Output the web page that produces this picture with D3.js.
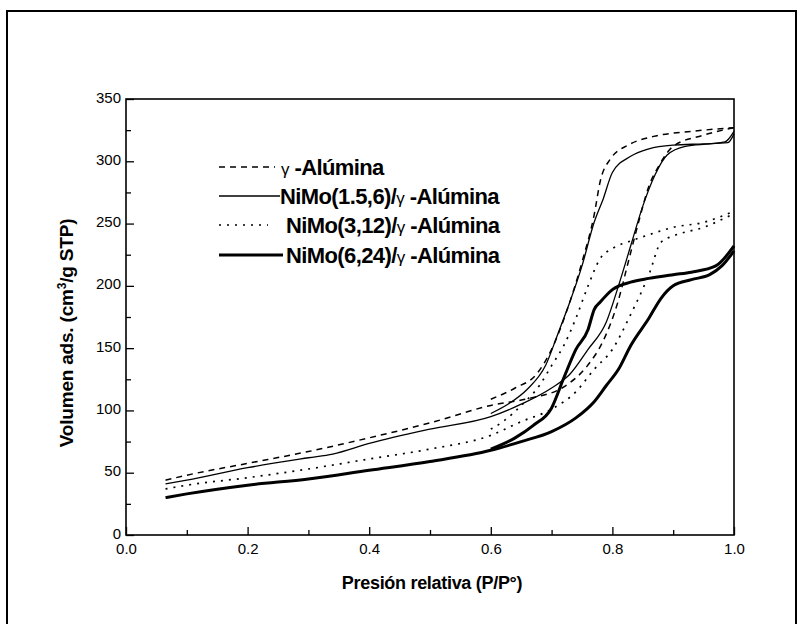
<!DOCTYPE html>
<html>
<head>
<meta charset="utf-8">
<script src="https://cdn.jsdelivr.net/npm/d3@7"></script>
<style>
  html, body { margin: 0; padding: 0; background: #fff; }
  svg { display: block; }
</style>
</head>
<body>
<script>
(()=>{
    const width = 800;
    const height = 624;
    const marginTop = 99;
    const marginRight = 66;
    const marginBottom = 89;
    const marginLeft = 126;

    // isotherms, [P/P0, volume] - adsorption branch and desorption branch
    const gammaAds = [[0.065,44],[0.1,48],[0.2,57.5],[0.3,67],[0.4,78],[0.5,90],[0.6,104],[0.666,110],[0.717,118],[0.759,136],[0.784,155],[0.809,187],[0.826,219],[0.843,251],[0.86,280],[0.876,296],[0.9,312],[0.95,321],[1.0,327]];
    const gammaDes = [[0.6,109],[0.64,118],[0.675,129],[0.70,149],[0.725,180],[0.75,219],[0.77,257],[0.78,284],[0.797,302],[0.826,313],[0.868,320],[0.93,324],[1.0,327]];

    const ni15Ads = [[0.065,41],[0.1,44],[0.2,54],[0.3,62],[0.34,65],[0.4,73.5],[0.5,85],[0.6,95],[0.65,105],[0.70,118],[0.73,129],[0.76,149],[0.79,171],[0.81,200],[0.83,232],[0.85,264],[0.87,289],[0.89,305],[0.92,312],[0.96,314],[0.985,315.5],[1.0,324]];
    const ni15Des = [[0.6,97.5],[0.63,105.5],[0.66,117],[0.69,136],[0.71,161],[0.73,187],[0.75,216],[0.77,251],[0.785,270],[0.80,291],[0.83,304],[0.86,310],[0.90,313],[0.95,314],[0.99,315],[1.0,322]];

    const ni312Ads = [[0.065,37],[0.1,40],[0.2,46],[0.3,53],[0.4,61],[0.5,69],[0.6,80],[0.65,91],[0.70,101],[0.74,115],[0.77,133],[0.80,149],[0.83,177],[0.86,209],[0.88,235],[0.90,240],[0.95,247],[1.0,258]];
    const ni312Des = [[0.6,85],[0.62,91],[0.65,104],[0.68,120],[0.70,136],[0.72,152],[0.74,174],[0.76,200],[0.78,222],[0.80,230],[0.83,236],[0.86,241],[0.90,247],[0.95,251],[1.0,260]];

    const ni624Ads = [[0.065,30],[0.1,33],[0.2,40],[0.3,45],[0.4,52],[0.5,59],[0.6,68],[0.65,75],[0.70,83],[0.74,94],[0.77,107],[0.79,120],[0.81,133],[0.83,152],[0.86,174],[0.88,190],[0.90,200],[0.93,205],[0.96,209],[0.98,216],[1.0,228]];
    const ni624Des = [[0.6,69],[0.64,78],[0.67,88],[0.70,102],[0.72,126],[0.74,149],[0.76,165],[0.77,181],[0.78,187],[0.80,197],[0.83,203],[0.86,206],[0.90,209],[0.93,211],[0.97,216],[1.0,232]];

    const seriesNames = ["γ -Alúmina", "NiMo(1.5,6)/γ -Alúmina", "NiMo(3,12)/γ -Alúmina", "NiMo(6,24)/γ -Alúmina"];
    const xTicks = [0, 0.2, 0.4, 0.6, 0.8, 1.0];
    const xMinor = [0.1, 0.3, 0.5, 0.7, 0.9];
    const yTicks = [0, 50, 100, 150, 200, 250, 300, 350];
    const yMinor = [25, 75, 125, 175, 225, 275, 325];

    const series = [
        {name: seriesNames[0], branches: [gammaAds, gammaDes], width: 1.5, dash: "6,5"},
        {name: seriesNames[1], branches: [ni15Ads, ni15Des], width: 1.3, dash: null},
        {name: seriesNames[2], branches: [ni312Ads, ni312Des], width: 1.7, dash: "2,6"},
        {name: seriesNames[3], branches: [ni624Ads, ni624Des], width: 3, dash: null}
    ];

    const x = d3.scaleLinear()
    .domain([0, 1])
    .range([marginLeft, width - marginRight]);

    const y = d3.scaleLinear()
    .domain([0, 350])
    .range([height - marginBottom, marginTop]);

    const svg = d3.create("svg")
    .attr("width", width)
    .attr("height", height)
    .attr("viewBox", [0, 0, width, height])
    .style("font-family", "'Liberation Sans', Arial, sans-serif");

    // outer figure frame (bottom edge runs off the page)
    svg.append("rect")
    .attr("x", 7).attr("y", 11)
    .attr("width", 789).attr("height", 640)
    .attr("fill", "none").attr("stroke", "#000").attr("stroke-width", 2);

    // axes, ticks pointing inward
    const gx = svg.append("g")
    .attr("transform", `translate(0,${y(0)})`)
    .call(d3.axisBottom(x).tickValues(xTicks).tickSize(-8).tickPadding(8).tickFormat(d3.format(".1f")));
    svg.append("g")
    .attr("transform", `translate(0,${y(0)})`)
    .call(d3.axisBottom(x).tickValues(xMinor).tickSize(-5).tickFormat(""));

    const gy = svg.append("g")
    .attr("transform", `translate(${x(0)},0)`)
    .call(d3.axisLeft(y).tickValues(yTicks).tickSize(-8).tickPadding(5));
    svg.append("g")
    .attr("transform", `translate(${x(0)},0)`)
    .call(d3.axisLeft(y).tickValues(yMinor).tickSize(-5).tickFormat(""));

    svg.selectAll(".domain").remove();
    svg.selectAll(".tick line").attr("stroke", "#000").attr("stroke-width", 1.3);
    gx.selectAll("text").attr("font-size", 15).attr("fill", "#000");
    gy.selectAll("text").attr("font-size", 15).attr("fill", "#000").attr("dy", "0.2em");

    // plot box
    svg.append("rect")
    .attr("x", x(0)).attr("y", y(350))
    .attr("width", x(1) - x(0)).attr("height", y(0) - y(350))
    .attr("fill", "none").attr("stroke", "#000").attr("stroke-width", 1.6);

    // isotherm curves
    const line = d3.line()
    .x(d => x(d[0]))
    .y(d => y(d[1]))
    .curve(d3.curveMonotoneX);

    svg.append("g")
    .selectAll("g")
    .data(series)
    .join("g")
    .attr("fill", "none")
    .attr("stroke", "#000")
    .attr("stroke-width", d => d.width)
    .attr("stroke-dasharray", d => d.dash)
    .selectAll("path")
    .data(d => d.branches)
    .join("path")
    .attr("d", line);

    // legend
    const legendX = 219;
    const legendY = [167, 196, 225, 255];
    const legendLineEnd = [275, 280, 268, 283];
    const legendTextX = [281, 280, 286, 286];

    const legend = svg.append("g")
    .selectAll("g")
    .data(series)
    .join("g");

    legend.append("line")
    .attr("x1", legendX)
    .attr("x2", (d, i) => legendLineEnd[i])
    .attr("y1", (d, i) => legendY[i])
    .attr("y2", (d, i) => legendY[i])
    .attr("stroke", "#000")
    .attr("stroke-width", d => d.width)
    .attr("stroke-dasharray", d => d.dash);

    legend.append("text")
    .attr("x", (d, i) => legendTextX[i])
    .attr("y", (d, i) => legendY[i] + 8)
    .attr("font-size", 22)
    .attr("font-weight", "bold")
    .attr("letter-spacing", -0.6)
    .each(function(d) {
        const parts = d.name.split("γ");
        const t = d3.select(this);
        t.append("tspan").text(parts[0]);
        t.append("tspan").attr("font-weight", "normal").attr("font-size", 17).text("γ");
        t.append("tspan").text(parts[1]);
    });

    // axis titles
    svg.append("text")
    .attr("x", (x(0) + x(1)) / 2 + 2)
    .attr("y", 589)
    .attr("text-anchor", "middle")
    .attr("font-size", 18)
    .attr("font-weight", "bold")
    .attr("letter-spacing", -0.3)
    .text("Presión relativa (P/P°)");

    const yt = svg.append("text")
    .attr("transform", `translate(73,${(y(0) + y(350)) / 2 + 16}) rotate(-90)`)
    .attr("text-anchor", "middle")
    .attr("font-size", 19)
    .attr("font-weight", "bold")
    .attr("letter-spacing", -0.2);
    yt.append("tspan").text("Volumen ads. (cm");
    yt.append("tspan").attr("font-size", 12).attr("dy", "-0.6em").text("3");
    yt.append("tspan").attr("dy", "0.4em").text("/g STP)");

    d3.select("body").append(() => svg.node());
})()
</script>
</body>
</html>
